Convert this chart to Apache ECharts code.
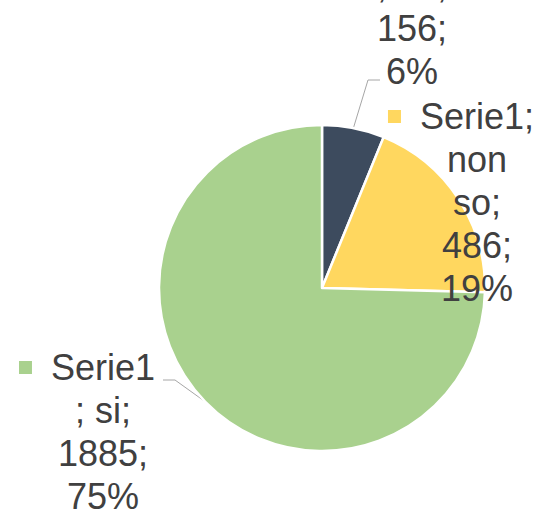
<!DOCTYPE html>
<html><head><meta charset="utf-8">
<script src="https://cdn.jsdelivr.net/npm/echarts@6/dist/echarts.min.js"></script>
<style>html,body{margin:0;padding:0;background:#fff}#c{width:545px;height:512px}</style>
</head><body><div id="c"></div><script>
const seriesName = 'Serie1';
const categories = ['no', 'non so', 'si'];
const values = [156, 486, 1885];
const colors = ['#3D4B5E', '#FFD75F', '#A9D18E'];

// label placement (layout only)
const labelPos = [{x: 412, y: -79}, {x: 477, y: 95}, {x: 103, y: 346}];
const lineBends = [[[368, 80], [380, 80]], null, [[175, 380], [163, 380]]];
const showLine = [true, false, true];

const FONT = '"Liberation Sans", Arial, sans-serif';
const TEXT = '#404040';

function buildLines(p) {
  const words = p.name.split(' ');
  let lines;
  if (words.length > 1) {
    lines = [p.seriesName + ';'].concat(words.map((w, k) => k === words.length - 1 ? w + ';' : w));
  } else {
    lines = [p.seriesName, '; ' + p.name + ';'];
  }
  lines.push(p.value + ';');
  lines.push(p.percent + '%');
  return lines;
}

const rich = {
  t: {fontFamily: FONT, fontSize: 36, color: TEXT, lineHeight: 43, align: 'center'},
  sp: {width: 19, height: 13, fontSize: 10, align: 'center'},
  pad: {width: 32, height: 13, fontSize: 10, align: 'center'}
};
colors.forEach((c, i) => {
  rich['sq' + i] = {width: 13, height: 13, backgroundColor: c, align: 'center'};
});

const data = categories.map((n, i) => ({
  name: n,
  value: values[i],
  itemStyle: {color: colors[i]},
  labelLine: {show: showLine[i]}
}));

const chart = echarts.init(document.getElementById('c'), null, {renderer: 'svg'});
chart.setOption({
  animation: false,
  backgroundColor: '#fff',
  series: [{
    type: 'pie',
    name: seriesName,
    center: [322, 288],
    radius: 163,
    startAngle: 90,
    clockwise: true,
    percentPrecision: 0,
    avoidLabelOverlap: false,
    itemStyle: {borderColor: '#fff', borderWidth: 2.5},
    label: {
      show: true,
      position: 'outside',
      overflow: 'none',
      fontFamily: FONT,
      fontSize: 36,
      lineHeight: 43,
      color: TEXT,
      align: 'center',
      formatter: function (p) {
        const lines = buildLines(p);
        return lines.map((l, k) => k === 0
          ? '{sq' + p.dataIndex + '|\u00a0}{sp|\u00a0}{t|' + l + '}{pad|\u00a0}'
          : '{t|' + l + '}').join('\n');
      },
      rich: rich
    },
    labelLine: {show: true, lineStyle: {color: '#A6A6A6', width: 1}},
    emphasis: {disabled: true},
    labelLayout: function (params) {
      const i = params.dataIndex;
      const res = {x: labelPos[i].x, y: labelPos[i].y, align: 'center', verticalAlign: 'top'};
      if (lineBends[i] && params.labelLinePoints) {
        res.labelLinePoints = [params.labelLinePoints[0], lineBends[i][0], lineBends[i][1]];
      }
      return res;
    },
    data: data
  }]
});
</script></body></html>
